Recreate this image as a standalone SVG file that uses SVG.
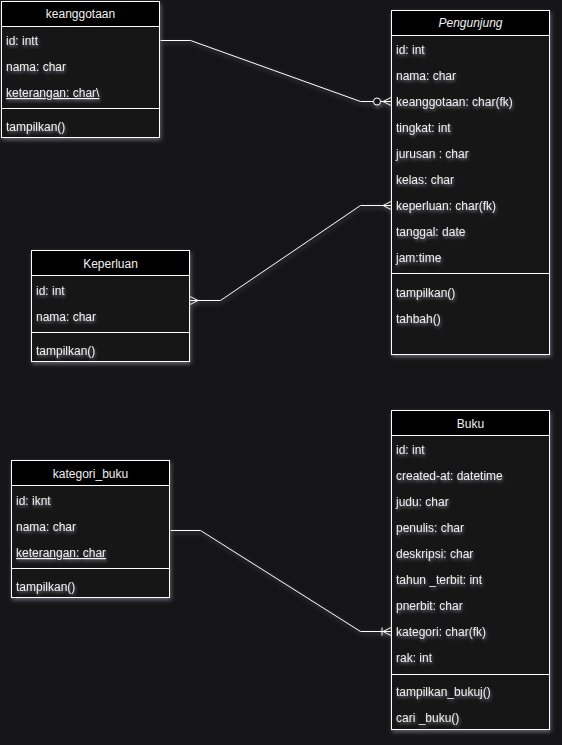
<svg xmlns="http://www.w3.org/2000/svg" width="562" height="745" viewBox="0 0 562 745">
<style>
.bg{fill:#151517}
.box{fill:#121214;stroke:#ffffff;stroke-width:1}
.head{fill:#000000;stroke:#ffffff;stroke-width:1}
.div{stroke:#ffffff;stroke-width:1}
text{font-family:"Liberation Sans",Arial,sans-serif;font-size:12px;fill:#f0f0f0}
.t{filter:url(#tglow)}
.c{text-anchor:middle}
.u{text-decoration:underline}
.conn path{fill:none;stroke:#ffffff;stroke-width:1}
.shape{filter:url(#glow)}
</style>
<defs>
<filter id="glow" x="-20%" y="-20%" width="140%" height="140%">
<feDropShadow dx="1" dy="2" stdDeviation="2" flood-color="#c8c8e6" flood-opacity="0.45"/>
</filter>
<filter id="tglow" x="-20%" y="-50%" width="140%" height="200%">
<feDropShadow dx="1" dy="2" stdDeviation="1.5" flood-color="#b4b4d2" flood-opacity="0.55"/>
</filter>
<marker id="many" viewBox="0 0 8 10" refX="8" refY="5" markerWidth="8" markerHeight="10" markerUnits="userSpaceOnUse" orient="auto-start-reverse">
<path d="M0,5 L8,1 M0,5 L8,9 M0,5 L8,5" fill="none" stroke="#ffffff" stroke-width="1"/>
</marker>
<marker id="zeromany" viewBox="0 0 20 10" refX="20" refY="5" markerWidth="20" markerHeight="10" markerUnits="userSpaceOnUse" orient="auto">
<path d="M11,5 L20,5 M12,5 L20,1 M12,5 L20,9" fill="none" stroke="#ffffff" stroke-width="1"/>
<circle cx="6" cy="5" r="3.5" fill="#151517" stroke="#ffffff" stroke-width="1"/>
</marker>
<marker id="onemany" viewBox="0 0 20 10" refX="20" refY="5" markerWidth="20" markerHeight="10" markerUnits="userSpaceOnUse" orient="auto">
<path d="M11,1 L11,9 M12,5 L20,1 M12,5 L20,9" fill="none" stroke="#ffffff" stroke-width="1"/>
</marker>
</defs>
<rect class="bg" x="0" y="0" width="562" height="745"/>

<g id="connectors" class="conn shape">
<path d="M160.5,40.5 L190.5,40.5 L360.5,101.5 L391,101.5" marker-end="url(#zeromany)"/>
<path d="M190,300.5 L220.5,300.5 L360.5,205.5 L391,205.5" marker-start="url(#many)" marker-end="url(#many)"/>
<path d="M170.5,530.5 L200.5,530.5 L360.5,631.5 L391,631.5" marker-end="url(#onemany)"/>
</g>

<g id="keanggotaan">
<g class="shape">
<rect class="box" x="1.5" y="1.5" width="158" height="136"/>
<rect class="head" x="1.5" y="1.5" width="158" height="25"/>
<line class="div" x1="1.5" y1="108.5" x2="159.5" y2="108.5"/>
</g>
<text class="c" x="80.5" y="18">keanggotaan</text>
<g class="t">
<text x="6" y="45">id: intt</text>
<text x="6" y="71">nama: char</text>
<text class="u" x="6" y="97">keterangan: char\</text>
<text x="6" y="131">tampilkan()</text>
</g>
</g>

<g id="pengunjung">
<g class="shape">
<rect class="box" x="391.5" y="10.5" width="158" height="344"/>
<rect class="head" x="391.5" y="10.5" width="158" height="25"/>
<line class="div" x1="391.5" y1="273.5" x2="549.5" y2="273.5"/>
</g>
<text class="c" x="470.5" y="27" font-style="italic">Pengunjung</text>
<g class="t">
<text x="396" y="54">id: int</text>
<text x="396" y="80">nama: char</text>
<text x="396" y="106">keanggotaan: char(fk)</text>
<text x="396" y="132">tingkat: int</text>
<text x="396" y="158">jurusan : char</text>
<text x="396" y="184">kelas: char</text>
<text x="396" y="210">keperluan: char(fk)</text>
<text x="396" y="236">tanggal: date</text>
<text x="396" y="262">jam:time</text>
<text x="396" y="297">tampilkan()</text>
<text x="396" y="323">tahbah()</text>
</g>
</g>

<g id="keperluan">
<g class="shape">
<rect class="box" x="31.5" y="250.5" width="158" height="111"/>
<rect class="head" x="31.5" y="250.5" width="158" height="25"/>
<line class="div" x1="31.5" y1="332.5" x2="189.5" y2="332.5"/>
</g>
<text class="c" x="110.5" y="268">Keperluan</text>
<g class="t">
<text x="36" y="295">id: int</text>
<text x="36" y="321">nama: char</text>
<text x="36" y="355">tampilkan()</text>
</g>
</g>

<g id="kategori_buku">
<g class="shape">
<rect class="box" x="11.5" y="460.5" width="158" height="137"/>
<rect class="head" x="11.5" y="460.5" width="158" height="25"/>
<line class="div" x1="11.5" y1="568.5" x2="169.5" y2="568.5"/>
</g>
<text class="c" x="90.5" y="478">kategori_buku</text>
<g class="t">
<text x="16" y="505">id: iknt</text>
<text x="16" y="531">nama: char</text>
<text class="u" x="16" y="557">keterangan: char</text>
<text x="16" y="591">tampilkan()</text>
</g>
</g>

<g id="buku">
<g class="shape">
<rect class="box" x="391.5" y="410.5" width="158" height="319"/>
<rect class="head" x="391.5" y="410.5" width="158" height="25"/>
<line class="div" x1="391.5" y1="674.5" x2="549.5" y2="674.5"/>
</g>
<text class="c" x="470.5" y="428">Buku</text>
<g class="t">
<text x="396" y="454">id: int</text>
<text x="396" y="480">created-at: datetime</text>
<text x="396" y="506">judu: char</text>
<text x="396" y="532">penulis: char</text>
<text x="396" y="558">deskripsi: char</text>
<text x="396" y="584">tahun _terbit: int</text>
<text x="396" y="610">pnerbit: char</text>
<text x="396" y="636">kategori: char(fk)</text>
<text x="396" y="662">rak: int</text>
<text x="396" y="696">tampilkan_bukuj()</text>
<text x="396" y="722">cari _buku()</text>
</g>
</g>
</svg>
